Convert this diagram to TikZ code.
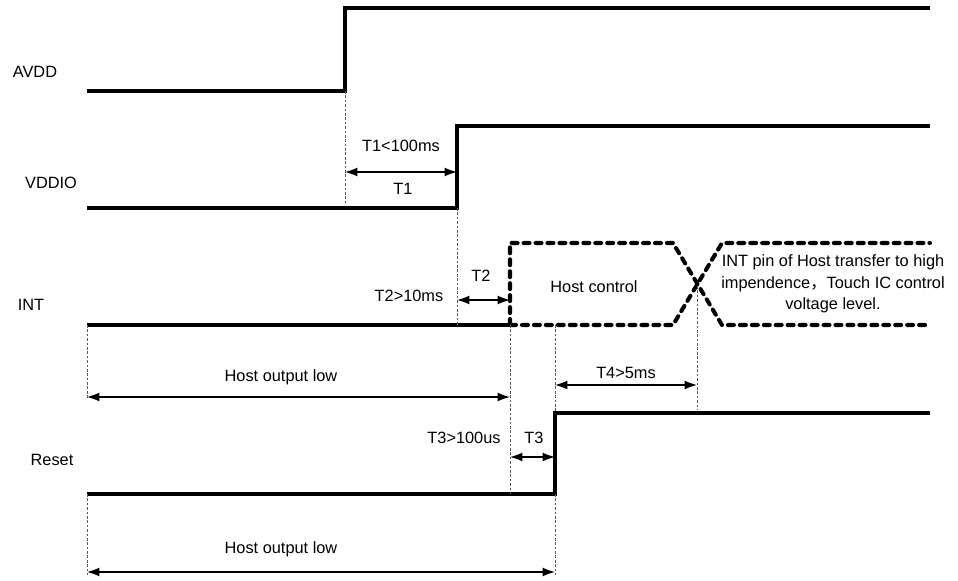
\documentclass[tikz,border=0pt]{standalone}
\usepackage{fontspec}
\setmainfont{Liberation Sans}
\newfontfamily\cjk{Noto Sans CJK SC}
\usepackage{tikz}
\usetikzlibrary{arrows.meta}
\definecolor{guidegray}{RGB}{90, 90, 90}

\tikzset{
  signal/.style={line width=2.3pt, line join=miter},
  floating/.style={line width=2.3pt, dash pattern=on 3.4pt off 3.4pt, line cap=round},
  guide/.style={line width=0.5pt, dash pattern=on 1.5pt off 1pt, guidegray},
  span/.style={line width=0.7pt, >={Latex[length=7pt,width=5pt]}, <->},
  lbl/.style={inner sep=1pt},
}

\begin{document}
\begin{tikzpicture}[x=0.02cm, y=-0.02cm, font=\fontsize{9.3}{11.5}\selectfont]
            \useasboundingbox (0,0) rectangle (958,581);
            % signal names
            \node[lbl] (avdd)  at ( 35, 72) {AVDD};
            \node[lbl] (vddio) at ( 51,183) {VDDIO};
            \node[lbl] (int)   at ( 31,305) {INT};
            \node[lbl] (reset) at ( 52,460) {Reset};
            % waveforms
            \draw[signal]   (87, 91) -- (345, 91) -- (345,  8) -- (930,  8);
            \draw[signal]   (87,208) -- (457,208) -- (457,126) -- (930,126);
            \draw[signal]   (87,325) -- (510,325);
            \draw[floating] (510,325) -- (510,243) -- (673,243) -- (722,325) -- (930,325);
            \draw[floating] (510,325) -- (673,325) -- (722,243) -- (930,243);
            \draw[signal]   (87,494) -- (555,494) -- (555,413) -- (930,413);
            % guide lines
            \draw[guide] (345, 91) -- (345,205);
            \draw[guide] (457,208) -- (457,325);
            \draw[guide] (510,325) -- (510,494);
            \draw[guide] (555,325) -- (555,413);
            \draw[guide] (697,286) -- (697,410);
            \draw[guide] ( 87,325) -- ( 87,399);
            \draw[guide] ( 87,494) -- ( 87,575);
            \draw[guide] (555,494) -- (555,575);
            % arrow end points
            \coordinate (t1a) at (345,172);  \coordinate (t1b) at (457,172);
            \coordinate (t2a) at (457,300);  \coordinate (t2b) at (510,300);
            \coordinate (hia) at ( 87,397);  \coordinate (hib) at (510,397);
            \coordinate (t4a) at (555,385);  \coordinate (t4b) at (697,385);
            \coordinate (t3a) at (510,457);  \coordinate (t3b) at (555,457);
            \coordinate (hra) at ( 87,572);  \coordinate (hrb) at (555,572);
            \draw[span] (t1a) -- (t1b);
            \draw[span] (t2a) -- (t2b);
            \draw[span] (hia) -- (hib);
            \draw[span] (t4a) -- (t4b);
            \draw[span] (t3a) -- (t3b);
            \draw[span] (hra) -- (hrb);
            % timing labels
            \node[lbl] (t1max)  at (401,146) {T1<100ms};
            \node[lbl] (t1)     at (403,189) {T1};
            \node[lbl] (t2)     at (481,276) {T2};
            \node[lbl] (t2min)  at (409,296) {T2>10ms};
            \node[lbl] (hostc)  at (594,287) {Host control};
            \node[lbl] (intpin) at (833,284) [align=center, font=\fontsize{9.3}{12.2}\selectfont]
                 {INT pin of Host transfer to high\\impendence{\cjk ，}Touch IC control\\voltage level.};
            \node[lbl] (hlow1)  at (281,377) {Host output low};
            \node[lbl] (t4min)  at (626,373) {T4>5ms};
            \node[lbl] (t3min)  at (464,438) {T3>100us};
            \node[lbl] (t3)     at (534,438) {T3};
            \node[lbl] (hlow2)  at (281,549) {Host output low};
\end{tikzpicture}
\end{document}
